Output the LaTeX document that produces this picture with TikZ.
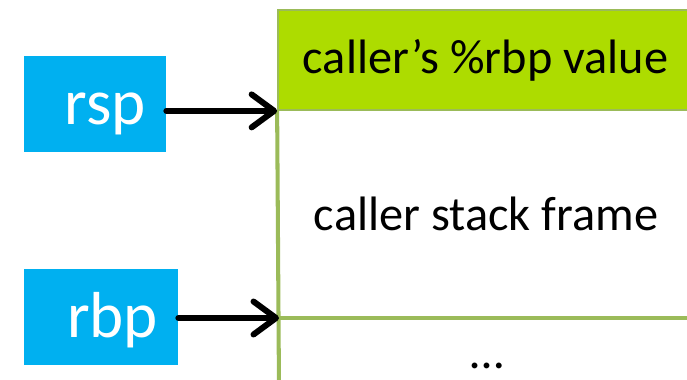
\documentclass[tikz,border=0pt]{standalone}
\usepackage{fontspec}
\setmainfont{Carlito}
\usepackage{tikz}
\usetikzlibrary{positioning,arrows.meta,shadows}
\definecolor{RegBlue}{HTML}{00B0F0}
\definecolor{SlotGreen}{HTML}{ADDC00}
\definecolor{EdgeGreen}{HTML}{9BBB59}
\tikzset{
  regnode/.style={
    fill=RegBlue,minimum height=1.92cm,inner xsep=0.4cm,
    text height=24pt,text depth=0pt,
    align=right,font=\fontsize{37}{42}\selectfont\color{white}
  },
  slotnode/.style={
    draw=EdgeGreen,fill=SlotGreen,line width=1pt,
    minimum width=8.3cm,minimum height=2cm,
    drop shadow={shadow xshift=0.6pt,shadow yshift=-0.8pt,opacity=0.3},
    font=\fontsize{27.5}{32}\selectfont
  },
  framelabel/.style={font=\fontsize{27.5}{32}\selectfont},
  ptrarrow/.style={
    line width=3.4pt,line cap=round,
    -{Straight Barb[length=4.5mm,width=6.6mm,round]}
  },
  gridline/.style={draw=EdgeGreen,line width=2.3pt},
}

\begin{document}
\begin{tikzpicture}
  \useasboundingbox (0,0) rectangle (13.74,7.58);
  \clip (0,0) rectangle (13.74,7.58);
  \node[slotnode] (top) at (9.71,6.38) {caller’s \%rbp value};
  \node[regnode,text width=2.04cm] (rsp) at (1.9,5.51) {rsp};
  \node[regnode,text width=2.28cm] (rbp) at (2.02,1.25) {rbp};
  \coordinate (rbpslot) at (5.58,1.22);
  \coordinate (stackend) at (5.58,-0.2);
  \coordinate (rowend) at (14.2,1.22);
  \node[framelabel] (frame) at (9.72,3.3) {caller stack frame};
  \node[framelabel] (more) at (9.74,0.27) {\dots};
  \draw[gridline] (top.south west) -- (stackend);
  \draw[gridline] (rbpslot) -- (rowend);
  \draw[ptrarrow] (top.south west -| rsp.east) -- (top.south west);
  \draw[ptrarrow] (rbp.east |- rbpslot) -- (rbpslot);
\end{tikzpicture}
\end{document}
